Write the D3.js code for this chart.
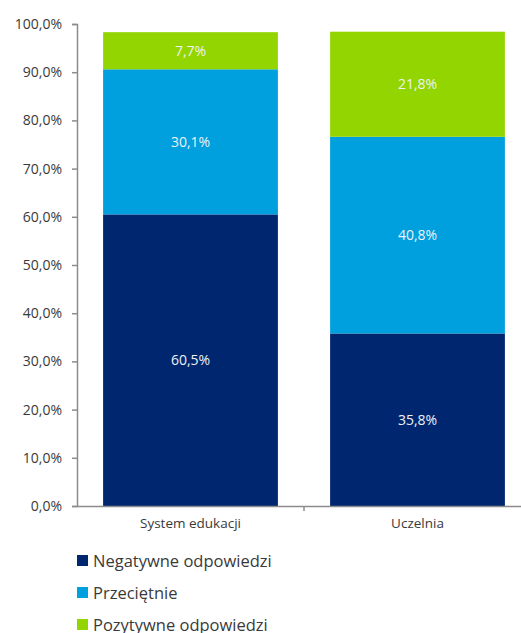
<!DOCTYPE html>
<html>
<head>
<meta charset="utf-8">
<script src="https://cdn.jsdelivr.net/npm/d3@7"></script>
<style>
  html, body { margin: 0; padding: 0; background: #fff; }
  svg { display: block; font-family: "Open Sans", "Noto Sans", sans-serif; }
</style>
</head>
<body>
<svg id="chart" width="521" height="633"></svg>
<script>
// Survey answers, share of respondents (%)
const categories = ["System edukacji", "Uczelnia"];
const seriesNames = ["Negatywne odpowiedzi", "Przeciętnie", "Pozytywne odpowiedzi"];
const negatywne = [60.5, 35.8];
const przecietnie = [30.1, 40.8];
const pozytywne = [7.7, 21.8];
const yTicks = [0, 10, 20, 30, 40, 50, 60, 70, 80, 90, 100];
const colors = ["#00266f", "#009fde", "#93d500"];

const rows = categories.map((c, i) => ({
  category: c,
  "Negatywne odpowiedzi": negatywne[i],
  "Przeciętnie": przecietnie[i],
  "Pozytywne odpowiedzi": pozytywne[i]
}));

const svg = d3.select("#chart");
const plotLeft = 77, plotRight = 531, plotTop = 24, plotBottom = 506;
const textColor = "#3a3a3a";
const axisColor = "#8c8c8c";

const x = d3.scaleBand().domain(categories).range([plotLeft, plotRight]).padding(0);
const barWidth = x.bandwidth() * 0.77;
const y = d3.scaleLinear().domain([0, 100]).range([plotBottom, plotTop]);
const color = d3.scaleOrdinal().domain(seriesNames).range(colors);

const fmt = v => d3.format(".1f")(v).replace(".", ",") + "%";

const stacked = d3.stack().keys(seriesNames)(rows);

// Stacked bars
const layers = svg.append("g").selectAll("g")
  .data(stacked).join("g")
  .attr("fill", d => color(d.key));

layers.selectAll("rect")
  .data(d => d)
  .join("rect")
  .attr("x", d => x(d.data.category) + (x.bandwidth() - barWidth) / 2)
  .attr("width", barWidth)
  .attr("y", d => y(d[1]))
  .attr("height", d => y(d[0]) - y(d[1]));

// Segment value labels
layers.selectAll("text")
  .data(d => d.map(p => ({ p, key: d.key })))
  .join("text")
  .attr("x", d => x(d.p.data.category) + x.bandwidth() / 2)
  .attr("y", d => (y(d.p[0]) + y(d.p[1])) / 2)
  .attr("dy", "0.35em")
  .attr("text-anchor", "middle")
  .attr("fill", "#eef2f6")
  .attr("font-size", 14)
  .text(d => fmt(d.p[1] - d.p[0]));

// Y axis
const yAxis = svg.append("g")
  .attr("transform", `translate(${plotLeft},0)`)
  .call(d3.axisLeft(y).tickValues(yTicks).tickSize(5).tickPadding(10).tickFormat(fmt));
yAxis.select(".domain").attr("stroke", axisColor).attr("stroke-width", 1.5);
yAxis.selectAll(".tick line").attr("stroke", axisColor).attr("stroke-width", 1.5);
yAxis.selectAll(".tick text")
  .attr("font-size", 14)
  .attr("fill", textColor)
  .attr("font-family", "\"Open Sans\", \"Noto Sans\", sans-serif");

// X axis
const xAxis = svg.append("g")
  .attr("transform", `translate(0,${plotBottom})`)
  .call(d3.axisBottom(x).tickSize(0).tickPadding(12));
xAxis.select(".domain").attr("stroke", axisColor).attr("stroke-width", 1.5);
xAxis.selectAll(".tick text")
  .attr("font-size", 13.5)
  .attr("fill", textColor)
  .attr("font-family", "\"Open Sans\", \"Noto Sans\", sans-serif");
// Category separator ticks
xAxis.selectAll("line.sep")
  .data(categories.slice(1))
  .join("line")
  .attr("class", "sep")
  .attr("x1", d => x(d)).attr("x2", d => x(d))
  .attr("y1", 0).attr("y2", 5)
  .attr("stroke", axisColor).attr("stroke-width", 1.5);

// Legend
const legend = svg.append("g").selectAll("g")
  .data(seriesNames).join("g")
  .attr("transform", (d, i) => `translate(77,${561 + i * 32})`);
legend.append("rect")
  .attr("x", 0).attr("y", -6)
  .attr("width", 11).attr("height", 11)
  .attr("fill", d => color(d));
legend.append("text")
  .attr("x", 16).attr("y", 0)
  .attr("dy", "0.35em")
  .attr("font-size", 16.5)
  .attr("fill", textColor)
  .text(d => d);
</script>
</body>
</html>
